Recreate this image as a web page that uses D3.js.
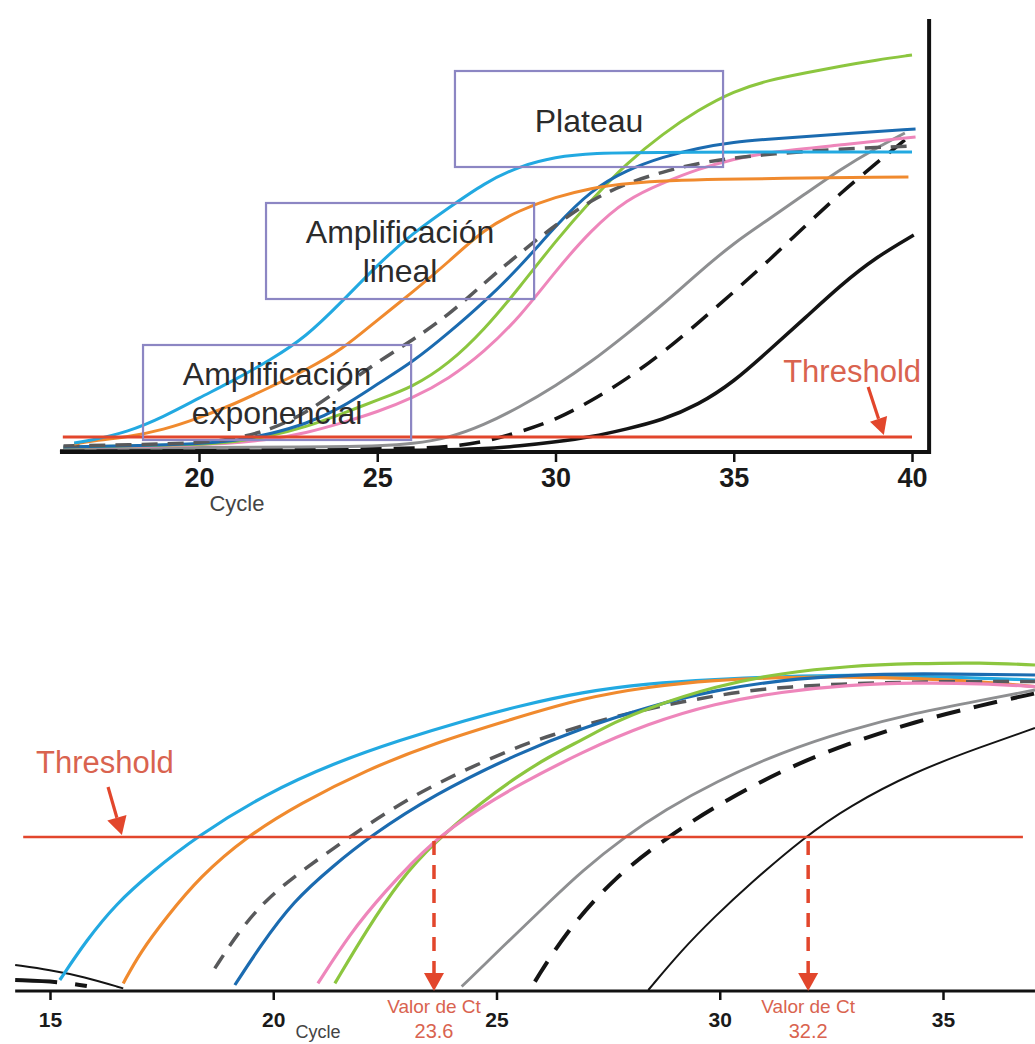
<!DOCTYPE html>
<html>
<head>
<meta charset="utf-8">
<script src="https://cdn.jsdelivr.net/npm/d3@7"></script>
<style>
  body { margin: 0; background: #fff; }
  svg { display: block; }
  text { font-family: "Liberation Sans", Arial, sans-serif; }
</style>
</head>
<body>
<div id="chart"></div>
<script>
// ---------- data: top panel (linear fluorescence), [cycle, value] ----------
const topCyan = [[16.5,4.5],[17,6],[18,10],[19,17.5],[20,27],[21,36],[22,46],[23,57.5],[24,75],[25,93.5],[26,109.5],[27,122],[28,134.5],[29,143],[30,147.5],[31,149.5],[33,150],[40,150]];
const topOrange = [[16.5,4],[17,5.5],[18,7.5],[19,11],[20,17],[21,24],[22,32.5],[23,41],[24,51],[25,66],[26,80],[27,95],[28,111.5],[29,121],[30,127.5],[31,132],[32,134.5],[34,136.5],[39.9,137.5]];
const topGrayDash = [[16.2,3],[18,3.5],[20,4.5],[21,6.5],[22,11],[23,19.5],[24,32],[25,45],[26,56],[27,68.5],[28,84.5],[29,99.5],[30,113.5],[31,126],[32,134.5],[33,140],[34,144.5],[35,147],[36,149],[38,151.5],[40,153]];
const topBlue = [[16.2,2.5],[18,3],[20,4],[21,5.5],[22,9],[23,14],[24,22],[25,34],[26,45],[27,59.5],[28,75],[29,92.5],[30,113],[31,131],[32,141],[33,147.5],[34,152],[35,155],[36,156.5],[38,159],[40.1,161.5]];
const topGreen = [[16.2,2.5],[20,3.5],[21,5],[22,8],[23,12.5],[24,19],[25,26],[26,32.5],[27,44],[28,61],[29,82.5],[30,105.5],[31,126],[32,144.5],[33,159],[34,171],[35,180.5],[36,186],[37,189.5],[38,193],[39,196],[40,198.5]];
const topPink = [[16.2,2.5],[20,3],[22,6],[23,9.5],[24,14.5],[25,20],[26,27],[27,36.5],[28,50],[29,67.5],[30,90.5],[31,111],[32,126.5],[33,134.5],[34,141.5],[35,146.5],[36,150],[38,153.5],[40.1,157.5]];
const topGray = [[16.2,2],[24,2.5],[25,3],[26,4],[27,7],[28,13.5],[29,22.5],[30,33],[31,45],[32,59],[33,73.5],[34,89.5],[35,104.5],[36,116.5],[37,129],[38,141.5],[39,152],[39.8,159.5]];
const topBlackDash = [[16.2,1.5],[26,1.5],[27,2.5],[28,5],[29,10],[30,16],[31,25.5],[32,36.5],[33,49.5],[34,64.5],[35,80],[36,96],[37,113],[38,129.5],[39,144.5],[39.8,156]];
const topBlack = [[16.1,0.5],[26,0.5],[28,1.5],[29,3],[30,5],[31,7.5],[32,11.5],[33,16],[34,23.5],[35,35],[36,51],[37,67],[38,83.5],[39,97.5],[40.05,108.5]];

// ---------- data: bottom panel (log view), [cycle, value] ----------
const botCyan = [[15.22,5.5],[15.82,25.5],[16.49,43.8],[17.24,58.8],[18.28,77.2],[19.85,98.8],[21.34,113.8],[22.84,125.5],[24.33,135.5],[25.5,142.5],[26.91,149.5],[28.4,153.8],[29.89,155.8],[31.39,157.2],[32.88,158],[34.37,157.5],[37.06,155.5]];
const botOrange = [[16.64,3.8],[17.01,19],[17.61,37],[18.36,57.2],[19.4,77.2],[20.6,93.8],[22.09,110.5],[23.58,123.8],[25.5,137],[26.91,146.3],[28.4,152.2],[29.89,155.5],[31.39,156.8],[32.88,157.2],[34.37,156.3],[35.87,154.7],[37.06,152.2]];
const botGrayDash = [[18.69,11.3],[19.25,30.5],[19.85,46],[20.6,59.5],[21.72,77.2],[22.84,93.8],[23.96,107.2],[25.45,122],[26.16,127.5],[27.65,137.5],[29.15,144.7],[30.64,150.5],[32.13,153],[33.63,154.2],[35.12,154.7],[37.06,154.7]];
const botBlue = [[19.14,3],[19.7,22.2],[20.45,45],[21.34,62.5],[22.16,77.2],[23.58,98],[25.5,119],[26.91,131.3],[28.4,142.2],[29.89,150.5],[31.39,155.5],[32.88,158],[34.37,158.8],[37.06,158]];
const botGreen = [[21.38,3.8],[22.09,30.5],[22.84,55.5],[23.58,73.8],[24.7,95],[25.45,107],[26.16,117],[26.91,125.5],[27.65,134.5],[28.4,141.5],[29.89,152.5],[31.39,159],[32.88,162.5],[34.37,163.8],[35.87,164.2],[37.06,163]];
const botPink = [[21.0,3.8],[21.72,28.8],[22.46,48.8],[23.58,75.5],[24.7,92.5],[25.45,102.5],[26.91,119.5],[28.4,133.8],[29.89,143.8],[31.39,149.7],[32.88,153],[34.37,154.2],[35.87,153.8],[37.06,152.2]];
const botGray = [[24.22,2.2],[24.93,17.5],[25.41,28],[26.16,44],[26.91,60],[27.88,77.2],[28.77,90.5],[29.89,104.5],[31.39,119.5],[32.88,130.5],[34.37,139],[35.87,145.5],[37.06,150.5]];
const botBlackDash = [[25.86,4.7],[26.53,28.8],[27.65,57.2],[28.85,77.2],[29.89,92.2],[31.39,110.5],[32.88,123.8],[34.37,134.7],[35.87,143],[37.06,148.8]];
const botBlack = [[28.4,0.5],[29.15,20.5],[29.89,37.2],[30.64,53],[31.91,77.2],[32.88,92.2],[34.37,109.7],[35.87,122.2],[37.06,131.5]];
const botBlackEarly = [[14.22,13],[15.0,10.5],[15.75,7.2],[16.64,1.3]];
const botBlackDashEarly = [[14.22,5.5],[15.2,4.7],[15.9,2.2]];

// ---------- axis ticks, thresholds, Ct ----------
const topTicks = [20, 25, 30, 35, 40];
const botTicks = [15, 20, 25, 30, 35];
const thresholdTop = 7.5;
const thresholdBot = 77;
const ctCycles = [23.6, 31.98];
const ctLabels = ["23.6", "32.2"];

// ---------- styles ----------
const C = {
  cyan: "#22a9e1", orange: "#f08a2e", blue: "#1b6bb0", green: "#8cc63f",
  pink: "#ee86bb", gray: "#8e8f91", grayDash: "#58595b", black: "#141414",
  red: "#e2462c", redText: "#d9634f", box: "#8c86c3", text: "#2b2b2b"
};

const svg = d3.select("#chart").append("svg")
  .attr("width", 1035).attr("height", 1044);

function arrow(g, x1, y1, x2, y2, color, width, head, halfW, dash) {
  const a = Math.atan2(y2 - y1, x2 - x1);
  const bx = x2 - head * Math.cos(a), by = y2 - head * Math.sin(a);
  g.append("line")
    .attr("x1", x1).attr("y1", y1).attr("x2", bx).attr("y2", by)
    .attr("stroke", color).attr("stroke-width", width)
    .attr("stroke-dasharray", dash);
  const pts = [
    [x2, y2],
    [bx + halfW * Math.sin(a), by - halfW * Math.cos(a)],
    [bx - halfW * Math.sin(a), by + halfW * Math.cos(a)]
  ];
  g.append("polygon").attr("points", pts.join(" ")).attr("fill", color);
}

// ================= TOP PANEL =================
const xTop = d3.scaleLinear().domain([20, 40]).range([199, 912]);
const yTop = d3.scaleLinear().domain([0, 217]).range([452, 18]);
const lineTop = d3.line().x(d => xTop(d[0])).y(d => yTop(d[1])).curve(d3.curveBasis);

const gTop = svg.append("g");

const topSeries = [
  [topBlack, C.black, 3.5, null],
  [topBlackDash, C.black, 3.5, "21,12"],
  [topGray, C.gray, 3, null],
  [topPink, C.pink, 3, null],
  [topGreen, C.green, 3, null],
  [topBlue, C.blue, 3, null],
  [topGrayDash, C.grayDash, 3.5, "16,10"],
  [topOrange, C.orange, 3, null],
  [topCyan, C.cyan, 3, null]
];
topSeries.forEach(([data, color, w, dash]) => {
  gTop.append("path").datum(data)
    .attr("fill", "none").attr("stroke", color).attr("stroke-width", w)
    .attr("stroke-dasharray", dash).attr("d", lineTop);
});

// threshold
gTop.append("line")
  .attr("x1", xTop(16.18)).attr("x2", xTop(40))
  .attr("y1", yTop(thresholdTop)).attr("y2", yTop(thresholdTop))
  .attr("stroke", C.red).attr("stroke-width", 3.2);

// phase boxes
const boxes = [
  { lines: ["Plateau"], c0: 27.18, c1: 34.7, v0: 142.5, v1: 190.5 },
  { lines: ["Amplificación", "lineal"], c0: 21.88, c1: 29.4, v0: 76.5, v1: 124.5 },
  { lines: ["Amplificación", "exponencial"], c0: 18.43, c1: 25.95, v0: 6, v1: 53.5 }
];
boxes.forEach(b => {
  const x0 = xTop(b.c0), x1 = xTop(b.c1), y0 = yTop(b.v1), y1 = yTop(b.v0);
  gTop.append("rect")
    .attr("x", x0).attr("y", y0).attr("width", x1 - x0).attr("height", y1 - y0)
    .attr("fill", "none").attr("stroke", C.box).attr("stroke-width", 2.2);
  const cx = (x0 + x1) / 2, cy = (y0 + y1) / 2;
  const offs = b.lines.length === 1 ? [13] : [-8, 31];
  b.lines.forEach((t, i) => {
    gTop.append("text")
      .attr("x", cx).attr("y", cy + offs[i])
      .attr("text-anchor", "middle")
      .attr("font-size", 32).attr("fill", C.text)
      .text(t);
  });
});

// axes
gTop.append("line")
  .attr("x1", xTop(16.1)).attr("x2", xTop(40.48))
  .attr("y1", yTop(0)).attr("y2", yTop(0))
  .attr("stroke", "#111").attr("stroke-width", 4);
gTop.append("line")
  .attr("x1", xTop(40.48)).attr("x2", xTop(40.48))
  .attr("y1", yTop(0) + 2).attr("y2", yTop(216.5))
  .attr("stroke", "#111").attr("stroke-width", 4);

const axTop = gTop.append("g")
  .attr("transform", `translate(0,${yTop(0)})`)
  .call(d3.axisBottom(xTop).tickValues(topTicks).tickSize(10).tickFormat(d3.format("d")));
axTop.select(".domain").remove();
axTop.selectAll(".tick line").attr("stroke", "#111").attr("stroke-width", 2.5);
axTop.selectAll(".tick text")
  .attr("y", 35).attr("dy", 0)
  .attr("font-family", "'Liberation Sans', Arial, sans-serif")
  .attr("font-size", 27).attr("font-weight", "bold").attr("fill", "#1a1a1a");

gTop.append("text")
  .attr("x", 237).attr("y", 511)
  .attr("text-anchor", "middle").attr("font-size", 22).attr("fill", "#444")
  .text("Cycle");

// threshold label + arrow
gTop.append("text")
  .attr("x", xTop(38.32)).attr("y", yTop(35))
  .attr("text-anchor", "middle").attr("font-size", 31).attr("fill", C.redText)
  .text("Threshold");
arrow(gTop, xTop(38.77), yTop(32.5), xTop(39.21), yTop(8.5), C.red, 3.2, 17, 9, null);

// ================= BOTTOM PANEL =================
const xBot = d3.scaleLinear().domain([15, 35]).range([50, 943]);
const yBot = d3.scaleLinear().domain([0, 170]).range([991, 651]);
const lineBot = d3.line().x(d => xBot(d[0])).y(d => yBot(d[1])).curve(d3.curveBasis);

const gBot = svg.append("g");

const botSeries = [
  [botBlackEarly, C.black, 2, null],
  [botBlackDashEarly, C.black, 4, "42,18,12,50"],
  [botCyan, C.cyan, 3.2, null],
  [botOrange, C.orange, 3.2, null],
  [botGrayDash, C.grayDash, 3.5, "16,11"],
  [botBlue, C.blue, 3.2, null],
  [botGreen, C.green, 3.2, null],
  [botPink, C.pink, 3.2, null],
  [botGray, C.gray, 2.8, null],
  [botBlackDash, C.black, 4, "24,14"],
  [botBlack, C.black, 2, null]
];
botSeries.forEach(([data, color, w, dash]) => {
  gBot.append("path").datum(data)
    .attr("fill", "none").attr("stroke", color).attr("stroke-width", w)
    .attr("stroke-dasharray", dash).attr("d", lineBot);
});

// axis
gBot.append("line")
  .attr("x1", xBot(14.22)).attr("x2", xBot(37.06))
  .attr("y1", yBot(0)).attr("y2", yBot(0))
  .attr("stroke", "#111").attr("stroke-width", 3);
const axBot = gBot.append("g")
  .attr("transform", `translate(0,${yBot(0)})`)
  .call(d3.axisBottom(xBot).tickValues(botTicks).tickSize(9).tickFormat(d3.format("d")));
axBot.select(".domain").remove();
axBot.selectAll(".tick line").attr("stroke", "#111").attr("stroke-width", 2.5);
axBot.selectAll(".tick text")
  .attr("y", 36).attr("dy", 0)
  .attr("font-family", "'Liberation Sans', Arial, sans-serif")
  .attr("font-size", 21).attr("font-weight", "bold").attr("fill", "#1a1a1a");

gBot.append("text")
  .attr("x", 318).attr("y", 1038)
  .attr("text-anchor", "middle").attr("font-size", 18).attr("fill", "#444")
  .text("Cycle");

// threshold
gBot.append("line")
  .attr("x1", xBot(14.4)).attr("x2", xBot(36.79))
  .attr("y1", yBot(thresholdBot)).attr("y2", yBot(thresholdBot))
  .attr("stroke", C.red).attr("stroke-width", 2.7);
gBot.append("text")
  .attr("x", xBot(16.23)).attr("y", yBot(109))
  .attr("text-anchor", "middle").attr("font-size", 31).attr("fill", C.redText)
  .text("Threshold");
arrow(gBot, xBot(16.3), yBot(102), xBot(16.61), yBot(78), C.red, 3.2, 18, 10, null);

// Ct markers
ctCycles.forEach((c, i) => {
  arrow(gBot, xBot(c), yBot(thresholdBot) + 4, xBot(c), yBot(0), C.red, 3.5, 18, 10, "14,10");
  gBot.append("text")
    .attr("x", xBot(c)).attr("y", 1013)
    .attr("text-anchor", "middle").attr("font-size", 19).attr("fill", C.redText)
    .text("Valor de Ct");
  gBot.append("text")
    .attr("x", xBot(c)).attr("y", 1038)
    .attr("text-anchor", "middle").attr("font-size", 20).attr("fill", C.redText)
    .text(ctLabels[i]);
});
</script>
</body>
</html>
